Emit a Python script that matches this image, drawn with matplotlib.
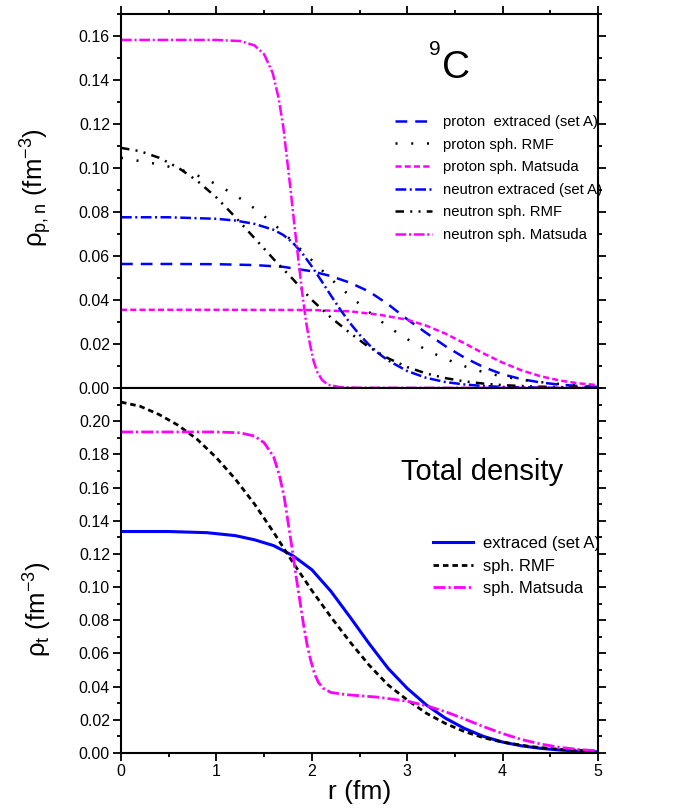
import matplotlib
matplotlib.use("Agg")
import matplotlib.pyplot as plt
from matplotlib.ticker import MultipleLocator, FormatStrFormatter

plt.rcParams['font.family'] = ['Liberation Sans', 'DejaVu Sans']
plt.rcParams['mathtext.default'] = 'regular'

# ---------------- proton / neutron densities (fm^-3) ----------------
r_p_ext = [0.0, 0.5, 1.0, 1.4, 1.7, 2.0, 2.2, 2.4, 2.6, 2.8, 3.0, 3.2, 3.4, 3.6, 3.8, 4.0, 4.2, 4.4, 4.6, 4.8, 5.0]
rho_p_ext = [0.0563, 0.0563, 0.0562, 0.0558, 0.0550, 0.0530, 0.0508, 0.0478, 0.0438, 0.0380, 0.0312, 0.0250, 0.0190, 0.0138, 0.0095, 0.0062, 0.0040, 0.0025, 0.0015, 0.0009, 0.0005]

r_p_rmf = [0.0, 0.2, 0.4, 0.6, 0.8, 1.0, 1.2, 1.4, 1.6, 1.8, 2.0, 2.2, 2.4, 2.6, 2.8, 3.0, 3.2, 3.4, 3.6, 3.8, 4.0, 4.3, 4.6, 5.0]
rho_p_rmf = [0.1045, 0.1030, 0.1015, 0.0995, 0.0965, 0.0925, 0.0875, 0.0815, 0.0745, 0.0665, 0.0580, 0.0495, 0.0418, 0.0345, 0.0278, 0.0222, 0.0173, 0.0132, 0.0099, 0.0072, 0.0052, 0.0031, 0.0018, 0.0008]

r_p_mat = [0.0, 1.0, 2.0, 2.4, 2.7, 3.0, 3.2, 3.4, 3.6, 3.8, 4.0, 4.2, 4.4, 4.6, 4.8, 5.0]
rho_p_mat = [0.0355, 0.0355, 0.0354, 0.0348, 0.0333, 0.0310, 0.0283, 0.0247, 0.0203, 0.0157, 0.0115, 0.0080, 0.0053, 0.0034, 0.0021, 0.0013]

r_n_ext = [0.0, 0.5, 1.0, 1.2, 1.4, 1.6, 1.7, 1.8, 1.9, 2.0, 2.1, 2.2, 2.3, 2.4, 2.5, 2.6, 2.7, 2.8, 3.0, 3.2, 3.4, 3.6, 3.8, 4.0, 4.5, 5.0]
rho_n_ext = [0.0775, 0.0775, 0.0768, 0.0760, 0.0745, 0.0718, 0.0695, 0.0660, 0.0612, 0.0552, 0.0487, 0.0420, 0.0355, 0.0295, 0.0242, 0.0196, 0.0157, 0.0125, 0.0077, 0.0046, 0.0027, 0.0016, 0.0009, 0.0005, 0.0001, 0.0]

r_n_rmf = [0.0, 0.2, 0.4, 0.6, 0.8, 1.0, 1.2, 1.4, 1.6, 1.8, 2.0, 2.2, 2.4, 2.6, 2.8, 3.0, 3.2, 3.4, 3.6, 3.8, 4.0, 4.3, 4.6, 5.0]
rho_n_rmf = [0.1090, 0.1075, 0.1045, 0.1000, 0.0940, 0.0865, 0.0775, 0.0680, 0.0585, 0.0495, 0.0400, 0.0320, 0.0250, 0.0185, 0.0135, 0.0095, 0.0066, 0.0045, 0.0030, 0.0020, 0.0013, 0.0007, 0.0004, 0.0002]

r_n_mat = [0.0, 1.0, 1.25, 1.4, 1.5, 1.59, 1.65, 1.70, 1.74, 1.78, 1.82, 1.86, 1.90, 1.94, 1.98, 2.02, 2.06, 2.11, 2.17, 2.29, 2.5, 5.0]
rho_n_mat = [0.1580, 0.1580, 0.1575, 0.1555, 0.1515, 0.1430, 0.1320, 0.1190, 0.1040, 0.0890, 0.0730, 0.0580, 0.0430, 0.0300, 0.0200, 0.0120, 0.0070, 0.0035, 0.0015, 0.0004, 0.0001, 0.0]

# ---------------- total densities (fm^-3) ----------------
r_t_ext = [0.0, 0.5, 0.9, 1.2, 1.4, 1.6, 1.8, 2.0, 2.2, 2.4, 2.6, 2.8, 3.0, 3.2, 3.4, 3.6, 3.8, 4.0, 4.2, 4.4, 4.6, 4.8, 5.0]
rho_t_ext = [0.1335, 0.1335, 0.1328, 0.1310, 0.1285, 0.1250, 0.1190, 0.1105, 0.0975, 0.0820, 0.0660, 0.0510, 0.0390, 0.0290, 0.0210, 0.0148, 0.0100, 0.0066, 0.0043, 0.0028, 0.0018, 0.0011, 0.0007]

r_t_rmf = [0.0, 0.2, 0.4, 0.6, 0.8, 1.0, 1.2, 1.4, 1.6, 1.8, 2.0, 2.2, 2.4, 2.6, 2.8, 3.0, 3.2, 3.4, 3.6, 3.8, 4.0, 4.3, 4.6, 5.0]
rho_t_rmf = [0.2115, 0.2090, 0.2040, 0.1975, 0.1890, 0.1780, 0.1650, 0.1500, 0.1330, 0.1150, 0.0980, 0.0820, 0.0670, 0.0530, 0.0410, 0.0320, 0.0240, 0.0178, 0.0129, 0.0092, 0.0065, 0.0038, 0.0022, 0.0010]

r_t_mat = [0.0, 1.0, 1.25, 1.4, 1.5, 1.6, 1.66, 1.71, 1.75, 1.79, 1.83, 1.87, 1.91, 1.95, 1.99, 2.03, 2.07, 2.12, 2.2, 2.35, 2.7, 3.0, 3.2, 3.4, 3.6, 3.8, 4.0, 4.2, 4.4, 4.6, 4.8, 5.0]
rho_t_mat = [0.1935, 0.1935, 0.1930, 0.1910, 0.1870, 0.1785, 0.1675, 0.1545, 0.1395, 0.1245, 0.1085, 0.0935, 0.0785, 0.0655, 0.0555, 0.0475, 0.0425, 0.0390, 0.0365, 0.0352, 0.0336, 0.0312, 0.0285, 0.0249, 0.0205, 0.0159, 0.0117, 0.0081, 0.0054, 0.0034, 0.0021, 0.0013]

BLUE = '#0000FF'
MAG = '#FF00FF'
BLACK = '#000000'

fig = plt.figure(figsize=(6.83, 8.08), dpi=100)
x0, w = 121 / 683, 477 / 683
ax1 = fig.add_axes([x0, 1 - 388 / 808, w, 374.5 / 808])
ax2 = fig.add_axes([x0, 1 - 753 / 808, w, 365 / 808])

lw = 1.8
ax1.plot(r_p_ext, rho_p_ext, color=BLUE, lw=lw, dashes=(4.7, 3.2), label='proton  extraced (set A)')
ax1.plot(r_p_rmf, rho_p_rmf, color=BLACK, lw=lw, dashes=(0.8, 5.5), label='proton sph. RMF')
ax1.plot(r_p_mat, rho_p_mat, color=MAG, lw=lw, dashes=(2.4, 1.3), label='proton sph. Matsuda')
ax1.plot(r_n_ext, rho_n_ext, color=BLUE, lw=lw, dashes=(4.3, 1.4, 0.8, 1.4), label='neutron extraced (set A)')
ax1.plot(r_n_rmf, rho_n_rmf, color=BLACK, lw=lw, dashes=(3.4, 2.5, 0.8, 2.5, 0.8, 2.5), label='neutron sph. RMF')
ax1.plot(r_n_mat, rho_n_mat, color=MAG, lw=lw, dashes=(4.3, 1.1, 0.8, 1.1), label='neutron sph. Matsuda')

ax2.plot(r_t_ext, rho_t_ext, color=BLUE, lw=2.2, label='extraced (set A)')
ax2.plot(r_t_rmf, rho_t_rmf, color=BLACK, lw=2.0, dashes=(2.0, 1.4), label='sph. RMF')
ax2.plot(r_t_mat, rho_t_mat, color=MAG, lw=2.0, dashes=(4.3, 1.1, 0.8, 1.1), label='sph. Matsuda')

for ax in (ax1, ax2):
    ax.set_xlim(0, 5)
    ax.xaxis.set_major_locator(MultipleLocator(1))
    ax.xaxis.set_minor_locator(MultipleLocator(0.5))
    ax.yaxis.set_major_locator(MultipleLocator(0.02))
    ax.yaxis.set_minor_locator(MultipleLocator(0.01))
    ax.yaxis.set_major_formatter(FormatStrFormatter('%.2f'))
    for s in ax.spines.values():
        s.set_linewidth(1.5)
    ax.tick_params(which='major', direction='out', length=5.5, width=1.3, labelsize=11.5, pad=2.5)
    ax.tick_params(which='minor', direction='out', length=3.2, width=1.3)

ax1.set_ylim(0, 0.17)
ax1.tick_params(which='both', top=True, right=True, bottom=True, labelbottom=False)
ax2.set_ylim(0, 0.22)
ax2.tick_params(which='both', top=False, right=True)
ax2.set_yticks([0.0, 0.02, 0.04, 0.06, 0.08, 0.10, 0.12, 0.14, 0.16, 0.18, 0.20])

ax1.set_ylabel(r'$\rho_{p,n}$ (fm$^{-3}$)', fontsize=18.5)
ax1.yaxis.set_label_coords(-0.14, 0.535)
ax2.set_ylabel(r'$\rho_{t}$ (fm$^{-3}$)', fontsize=18.5)
ax2.yaxis.set_label_coords(-0.14, 0.395)
ax2.set_xlabel('r (fm)', fontsize=19, labelpad=1)

ax1.text(0.645, 0.905, '9', transform=ax1.transAxes, fontsize=15, ha='left', va='center')
ax1.text(0.672, 0.855, 'C', transform=ax1.transAxes, fontsize=28, ha='left', va='center')
ax2.text(0.588, 0.77, 'Total density', transform=ax2.transAxes, fontsize=21, ha='left', va='center')

ax1.legend(loc='upper left', bbox_to_anchor=((395 - 121) / 477, (388 - 115) / 374.5),
           frameon=False, fontsize=10.7, handlelength=2.5, handletextpad=0.75,
           labelspacing=0.58, borderpad=0, borderaxespad=0)
ax2.legend(loc='upper left', bbox_to_anchor=((433 - 121) / 477, (753 - 536) / 365),
           frameon=False, fontsize=12, handlelength=2.4, handletextpad=0.6,
           labelspacing=0.45, borderpad=0, borderaxespad=0)

fig.savefig('out.png', dpi=100)
